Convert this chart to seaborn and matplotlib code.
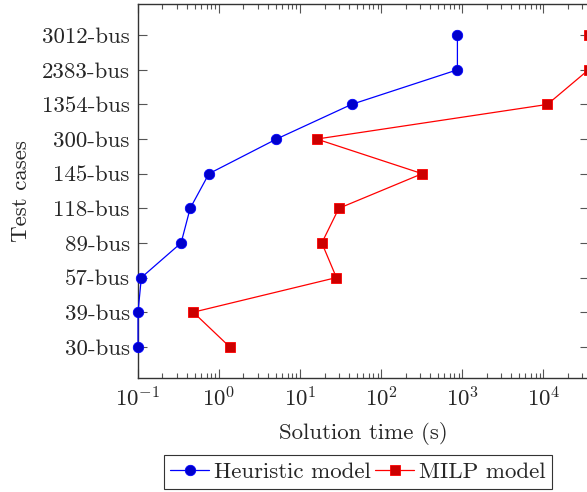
import numpy as np
import pandas as pd
import matplotlib
matplotlib.use("Agg")
import matplotlib.pyplot as plt
from matplotlib.ticker import FixedLocator, FixedFormatter, LogLocator, NullFormatter
import seaborn as sns

# Test cases (bottom to top) and solution times in seconds
cases = ["30-bus", "39-bus", "57-bus", "89-bus", "118-bus",
         "145-bus", "300-bus", "1354-bus", "2383-bus", "3012-bus"]
heuristic_time = [0.10, 0.10, 0.11, 0.34, 0.44, 0.75, 5.1, 43, 870, 870]
milp_time = [1.35, 0.48, 28, 18.5, 30, 320, 16, 11200, 36000, 36000]
x_ticks = [1e-1, 1e0, 1e1, 1e2, 1e3, 1e4]
x_tick_labels = [r"$10^{-1}$", r"$10^{0}$", r"$10^{1}$", r"$10^{2}$", r"$10^{3}$", r"$10^{4}$"]

sns.set_style("ticks")
plt.rcParams["font.family"] = ["cmr10", "DejaVu Serif"]
plt.rcParams["mathtext.fontset"] = "cm"
plt.rcParams["axes.unicode_minus"] = False
plt.rcParams["axes.formatter.use_mathtext"] = True

df = pd.DataFrame({
    "case": np.arange(len(cases)),
    "Heuristic model": heuristic_time,
    "MILP model": milp_time,
})

fig = plt.figure(figsize=(5.87, 4.92), dpi=100)
ax = fig.add_axes([138 / 587, 1 - 378 / 492, 450.5 / 587, 374 / 492])

sns.lineplot(data=df, x="Heuristic model", y="case", orient="y", sort=False,
             color="blue", lw=0.9, marker="o", markersize=7.5,
             markerfacecolor=(0, 0, 0.8), markeredgecolor="blue",
             markeredgewidth=0.6, label="Heuristic model", ax=ax, legend=False)
sns.lineplot(data=df, x="MILP model", y="case", orient="y", sort=False,
             color="red", lw=0.9, marker="s", markersize=7,
             markerfacecolor=(0.8, 0, 0), markeredgecolor="red",
             markeredgewidth=0.6, label="MILP model", ax=ax, legend=False)
for line in ax.lines:
    line.set_clip_on(False)
    line.set_zorder(3)

ax.set_xscale("log")
ax.set_xlim(0.1, 36000)
ax.set_ylim(-0.9, 9.9)
ax.xaxis.set_major_locator(FixedLocator(x_ticks))
ax.xaxis.set_major_formatter(FixedFormatter(x_tick_labels))
ax.xaxis.set_minor_locator(LogLocator(base=10, subs=np.arange(2, 10), numticks=20))
ax.xaxis.set_minor_formatter(NullFormatter())
ax.set_yticks(np.arange(len(cases)))
ax.set_yticklabels(cases)

ax.tick_params(which="both", direction="in", top=True, right=True,
               labelsize=16.5, color="#555555", width=0.8)
ax.tick_params(which="major", length=6.5, pad=6)
ax.tick_params(which="minor", length=3.5)
for s in ax.spines.values():
    s.set_linewidth(1.0)
    s.set_color("#333333")

ax.set_xlabel("Solution time (s)", fontsize=16.5, labelpad=8)
ax.set_ylabel("Test cases", fontsize=16.5, labelpad=8)

handles, labels = ax.get_legend_handles_labels()
leg = fig.legend(handles, labels, loc="center", ncol=2,
                 bbox_to_anchor=(358 / 587, 1 - 472 / 492),
                 fontsize=16.5, frameon=True, fancybox=False,
                 edgecolor="#333333", framealpha=1,
                 handlelength=1.7, handletextpad=0.2, columnspacing=0.2,
                 borderpad=0.3, borderaxespad=0.2)
leg.get_frame().set_linewidth(0.8)

fig.savefig("out.png", dpi=100)
